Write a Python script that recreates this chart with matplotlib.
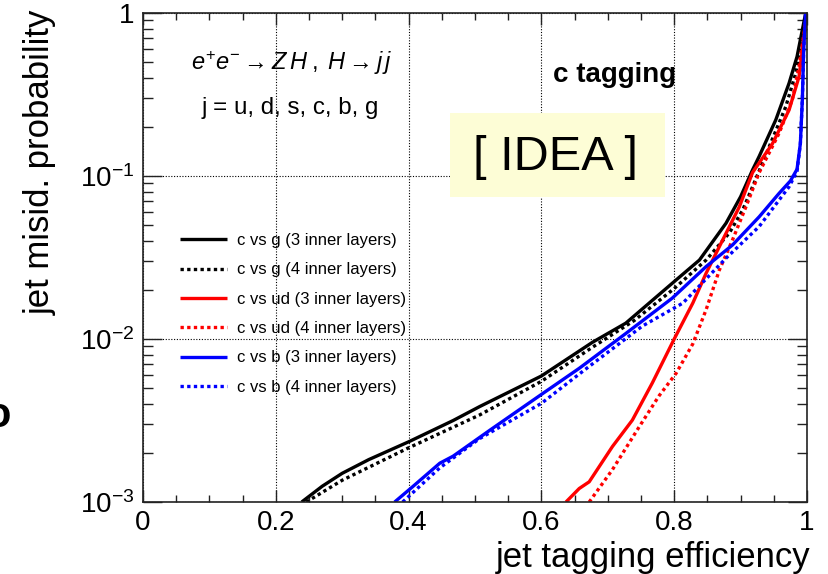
import numpy as np
import matplotlib
matplotlib.use("Agg")
import matplotlib.pyplot as plt
from matplotlib.patches import Rectangle
from matplotlib.ticker import FixedLocator, LogLocator, NullFormatter

plt.rcParams['font.family'] = ['Liberation Sans', 'DejaVu Sans']
plt.rcParams['mathtext.fontset'] = 'custom'
plt.rcParams['mathtext.rm'] = 'Liberation Sans'
plt.rcParams['mathtext.it'] = 'Liberation Sans:italic'

# c vs g, 3 inner layers
g3_x = [0.239, 0.270, 0.300, 0.340, 0.400, 0.467, 0.507, 0.600, 0.677, 0.727, 0.800,
        0.838, 0.878, 0.900, 0.918, 0.928, 0.953, 0.973, 0.985, 0.998]
g3_y = [1.0e-3, 1.25e-3, 1.50e-3, 1.82e-3, 2.34e-3, 3.16e-3, 3.85e-3, 5.93e-3, 9.55e-3, 1.25e-2, 2.25e-2,
        3.05e-2, 5.13e-2, 7.46e-2, 0.109, 0.132, 0.221, 0.371, 0.540, 1.0]
# c vs g, 4 inner layers
g4_x = [0.246, 0.300, 0.399, 0.507, 0.600, 0.677, 0.740, 0.800, 0.848, 0.883, 0.903,
        0.918, 0.943, 0.968, 0.983, 1.0]
g4_y = [1.0e-3, 1.36e-3, 2.14e-3, 3.42e-3, 5.50e-3, 8.91e-3, 1.30e-2, 2.04e-2, 3.05e-2, 4.47e-2, 6.17e-2,
        8.59e-2, 0.151, 0.266, 0.427, 1.0]
# c vs ud, 3 inner layers
ud3_x = [0.637, 0.657, 0.672, 0.707, 0.737, 0.767, 0.800, 0.828, 0.848, 0.873,
         0.898, 0.918, 0.948, 0.973, 0.988, 1.0]
ud3_y = [1.0e-3, 1.21e-3, 1.33e-3, 2.19e-3, 3.18e-3, 5.37e-3, 1.0e-2, 1.66e-2, 2.53e-2, 4.05e-2,
         6.46e-2, 0.105, 0.158, 0.254, 0.407, 1.0]
# c vs ud, 4 inner layers
ud4_x = [0.672, 0.707, 0.747, 0.777, 0.803, 0.828, 0.848, 0.868, 0.888, 0.908,
         0.928, 0.958, 0.978, 0.988, 1.0]
ud4_y = [1.0e-3, 1.58e-3, 2.88e-3, 4.47e-3, 6.17e-3, 9.33e-3, 1.51e-2, 2.65e-2, 4.07e-2, 6.46e-2,
         0.105, 0.183, 0.295, 0.468, 1.0]
# c vs b, 3 inner layers
b3_x = [0.379, 0.406, 0.447, 0.467, 0.522, 0.600, 0.657, 0.727, 0.797, 0.848,
        0.888, 0.928, 0.958, 0.975, 0.985, 0.990, 0.993, 0.995, 0.998]
b3_y = [1.0e-3, 1.24e-3, 1.73e-3, 1.91e-3, 2.75e-3, 4.57e-3, 6.61e-3, 1.08e-2, 1.78e-2, 2.78e-2,
        3.78e-2, 5.62e-2, 7.83e-2, 9.33e-2, 0.110, 0.158, 0.295, 0.593, 1.0]
# c vs b, 4 inner layers
b4_x = [0.391, 0.447, 0.507, 0.600, 0.665, 0.752, 0.813, 0.878, 0.928, 0.973,
        0.985, 0.990, 0.993, 0.995, 0.998]
b4_y = [1.0e-3, 1.62e-3, 2.45e-3, 4.03e-3, 6.46e-3, 1.20e-2, 1.66e-2, 3.13e-2, 4.90e-2, 8.59e-2,
        0.107, 0.158, 0.295, 0.593, 1.0]

labels = ['c vs g (3 inner layers)', 'c vs g (4 inner layers)',
          'c vs ud (3 inner layers)', 'c vs ud (4 inner layers)',
          'c vs b (3 inner layers)', 'c vs b (4 inner layers)']
x_ticks = [0, 0.2, 0.4, 0.6, 0.8, 1.0]
x_ticklabels = ['0', '0.2', '0.4', '0.6', '0.8', '1']
y_ticks = [1e-3, 1e-2, 1e-1, 1]
y_ticklabels = [r'$10^{-3}$', r'$10^{-2}$', r'$10^{-1}$', '1']

W, H = 829, 574
fig = plt.figure(figsize=(W / 100, H / 100), dpi=100)
ax = fig.add_axes([143 / W, 1 - 502 / H, 664 / W, 489 / H])

dot = (0, (1, 1))
series = [(g3_x, g3_y, 'black', '-'), (g4_x, g4_y, 'black', dot),
          (ud3_x, ud3_y, 'red', '-'), (ud4_x, ud4_y, 'red', dot),
          (b3_x, b3_y, 'blue', '-'), (b4_x, b4_y, 'blue', dot)]
for (xs, ys, col, ls), lab in zip(series, labels):
    ax.plot(xs, ys, color=col, ls=ls, lw=2.4, label=lab, solid_capstyle='butt',
            solid_joinstyle='round')

ax.set_yscale('log')
ax.set_xlim(0, 1)
ax.set_ylim(1e-3, 1)

ax.xaxis.set_major_locator(FixedLocator(x_ticks))
ax.xaxis.set_minor_locator(FixedLocator(np.arange(0, 1.001, 0.05)))
ax.set_xticklabels(x_ticklabels)
ax.yaxis.set_major_locator(FixedLocator(y_ticks))
ax.yaxis.set_minor_locator(LogLocator(base=10, subs=np.arange(2, 10)))
ax.yaxis.set_minor_formatter(NullFormatter())
ax.set_yticklabels(y_ticklabels)

ax.tick_params(which='both', direction='in', top=True, right=True, colors='#222222',
               labelcolor='black', labelsize=20, pad=6)
ax.tick_params(axis='x', which='major', length=8.6, width=1.0)
ax.tick_params(axis='x', which='minor', length=5, width=1.0)
ax.tick_params(axis='y', which='major', length=14, width=1.0)
ax.tick_params(axis='y', which='minor', length=7, width=1.0)
for s in ax.spines.values():
    s.set_linewidth(1.2)
    s.set_color('#222222')

ax.grid(True, which='major', color='black', ls=(0, (1, 1.5)), lw=0.8)
ax.set_axisbelow(True)

leg = ax.legend(loc='upper left', bbox_to_anchor=((180 - 143) / 664, (502 - 233) / 489),
                frameon=False, fontsize=12, handlelength=2.8, handletextpad=0.6,
                labelspacing=0.86, borderpad=0, borderaxespad=0)

fig.text(292 / W, 1 - 63 / H, r'$e^{+}e^{-} \rightarrow Z\,H\;,\;H \rightarrow j\,j$',
         ha='center', va='center', fontsize=17)
fig.text(290 / W, 1 - 108 / H, 'j = u, d, s, c, b, g', ha='center', va='center', fontsize=17.4)
fig.text(615 / W, 1 - 75 / H, 'c tagging', ha='center', va='center', fontsize=20,
         fontweight='bold')

fig.patches.append(Rectangle((450 / W, 1 - 197 / H), 215 / W, 84 / H,
                             transform=fig.transFigure, facecolor='#FDFDD6',
                             edgecolor='none', zorder=3))
fig.text(556 / W, 1 - 157 / H, '[ IDEA ]', ha='center', va='center', fontsize=35, zorder=4)

fig.text(40 / W, 1 - 162 / H, 'jet misid. probability', rotation=90,
         ha='center', va='center', fontsize=25)
fig.text(810 / W, 1 - 558 / H, 'jet tagging efficiency', ha='right', va='center',
         fontsize=25)
# clipped fragment at the left edge
fig.text(11 / W, 1 - 416 / H, 'o', ha='right', va='center', fontsize=30, fontweight='bold')

fig.savefig('out.png', dpi=100)
